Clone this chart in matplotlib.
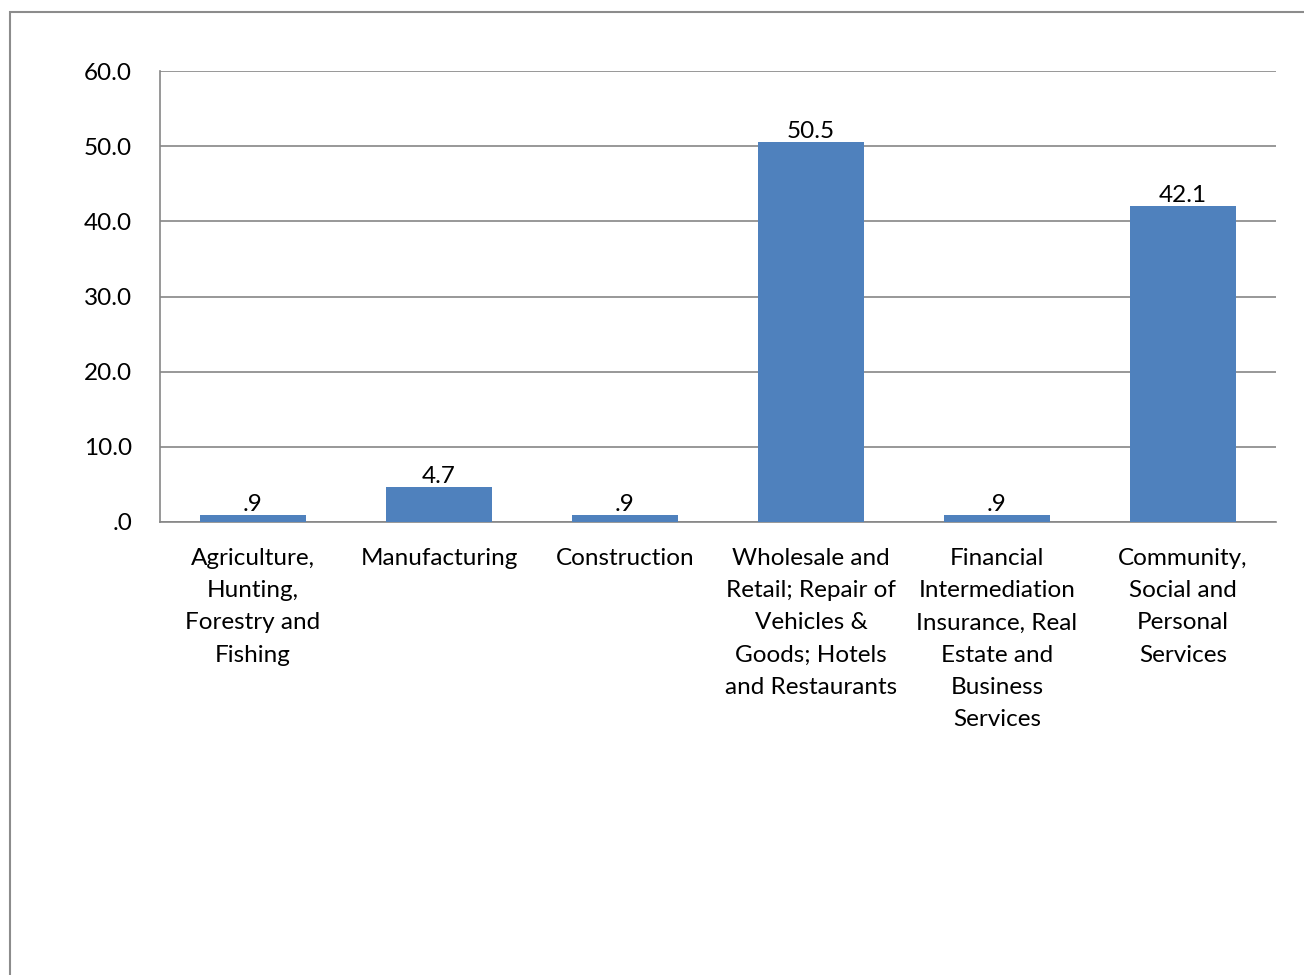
import matplotlib.pyplot as plt
from matplotlib.patches import Rectangle

categories = [
    "Agriculture,\nHunting,\nForestry and\nFishing",
    "Manufacturing",
    "Construction",
    "Wholesale and\nRetail; Repair of\nVehicles &\nGoods; Hotels\nand Restaurants",
    "Financial\nIntermediation\nInsurance, Real\nEstate and\nBusiness\nServices",
    "Community,\nSocial and\nPersonal\nServices",
]
values = [0.9, 4.7, 0.9, 50.5, 0.9, 42.1]
value_labels = [".9", "4.7", ".9", "50.5", ".9", "42.1"]
yticks = [0, 10, 20, 30, 40, 50, 60]
ytick_labels = [".0", "10.0", "20.0", "30.0", "40.0", "50.0", "60.0"]

plt.rcParams['font.family'] = ['Lato', 'DejaVu Sans']
W, H = 1304, 975
fs = 17.5
fig = plt.figure(figsize=(W / 100, H / 100), dpi=100)

# outer chart frame (right and bottom cut off)
fig.patches.append(Rectangle((9.5 / W, -0.1), 1.2, 1 - 12.5 / H + 0.1,
                             transform=fig.transFigure, fill=False,
                             edgecolor="#8c8c8c", linewidth=1.5))

ax = fig.add_axes([160 / W, 1 - 522 / H, 1116 / W, (522 - 71) / H])
x = range(len(values))
ax.bar(x, values, width=0.57, color="#4F81BD", zorder=3)
for i, (v, lab) in enumerate(zip(values, value_labels)):
    ax.annotate(lab, (i, v), xytext=(0, 0), textcoords="offset points",
                ha="center", va="bottom", fontsize=fs)

ax.set_xlim(-0.5, len(values) - 0.5)
ax.set_ylim(0, 60)
ax.set_yticks(yticks)
ax.set_yticklabels(ytick_labels, fontsize=fs)
ax.set_xticks(list(x))
ax.set_xticklabels(categories, fontsize=fs, linespacing=1.65, va="top")
ax.tick_params(length=0, pad=19)
ax.tick_params(axis="y", pad=20)
ax.grid(axis="y", color="#868686", linewidth=1.2, zorder=0)
for s in ["top", "right"]:
    ax.spines[s].set_visible(False)
ax.spines["left"].set_color("#868686")
ax.spines["bottom"].set_color("#868686")
ax.spines["left"].set_linewidth(1.2)
ax.spines["bottom"].set_linewidth(1.2)

fig.savefig("out.png", dpi=100)
